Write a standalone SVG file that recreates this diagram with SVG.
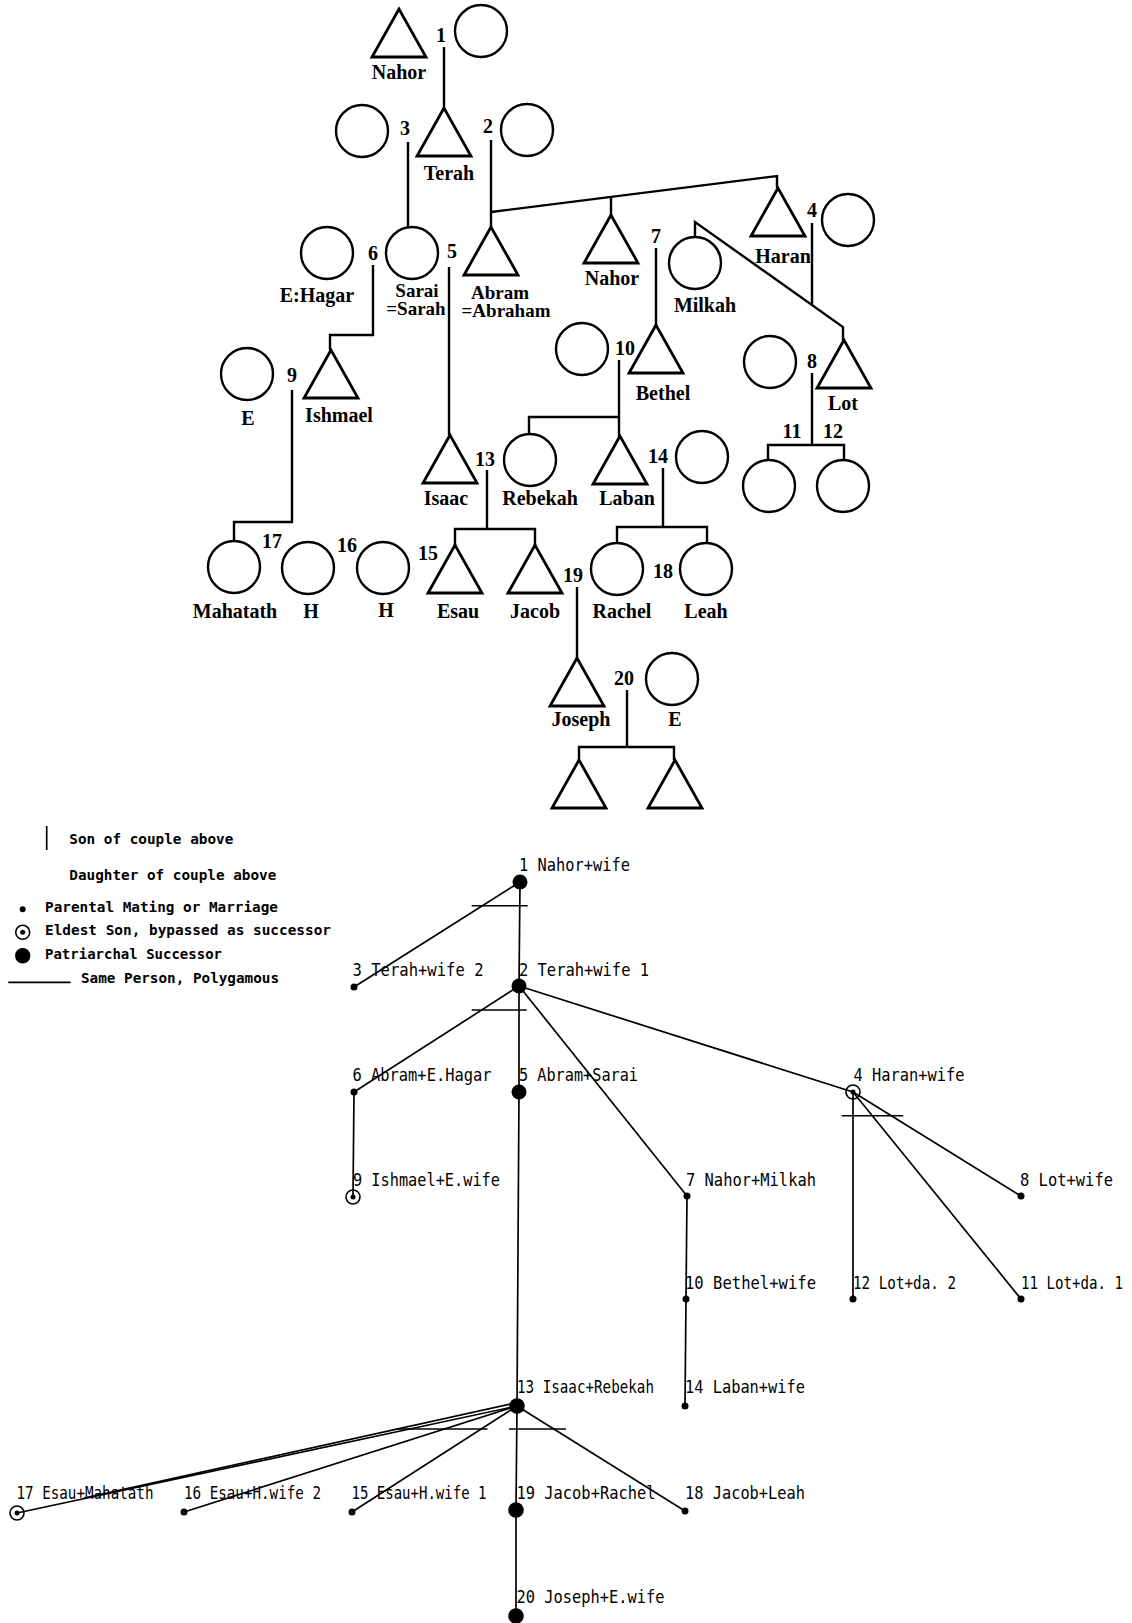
<svg xmlns="http://www.w3.org/2000/svg" width="1132" height="1623" viewBox="0 0 1132 1623">
<defs>
<style>
.tri{fill:none;stroke:#000;stroke-width:2.8;stroke-linejoin:miter}
.cir{fill:none;stroke:#000;stroke-width:2.4}
.ln{fill:none;stroke:#000;stroke-width:2.4}
.nm{font-family:"Liberation Serif","Times New Roman",serif;font-weight:bold;font-size:20px;text-anchor:middle;fill:#000}
.nm2{font-family:"Liberation Serif","Times New Roman",serif;font-weight:bold;font-size:19px;text-anchor:middle;fill:#000}
.ed{fill:none;stroke:#000;stroke-width:1.7}
.tk{fill:none;stroke:#000;stroke-width:1.5}
.dot{fill:#000}
.bo{fill:none;stroke:#000;stroke-width:1.6}
.cl{font-family:"DejaVu Sans Mono",monospace;font-size:17px;fill:#000}
.lg{font-family:"DejaVu Sans Mono",monospace;font-size:13.5px;font-weight:bold;fill:#000}
</style>
<path id="tri" class="tri" d="M0,0 L-27,48 L27,48 Z"/>
<circle id="cir" class="cir" r="26"/>
<g id="bull"><circle class="bo" r="7"/><circle class="dot" r="2.5"/></g>
</defs>
<rect width="1132" height="1623" fill="#fff"/>

<!-- ===== Upper kinship chart ===== -->
<g id="upper-connectors">
<path class="ln" d="M444,47 V108"/>
<path class="ln" d="M408,142 V227"/>
<path class="ln" d="M491,140 V227"/>
<path class="ln" d="M491,212 L777,176 V188"/>
<path class="ln" d="M611,197 V215"/>
<path class="ln" d="M812,223 V305"/>
<path class="ln" d="M695,237 V222 L843,327 V340"/>
<path class="ln" d="M656,248 V325"/>
<path class="ln" d="M373,265 V335 H330 V350"/>
<path class="ln" d="M449,267 V435"/>
<path class="ln" d="M292,390 V522 H234 V541"/>
<path class="ln" d="M619,360 V437 M619,417 H529 V434"/>
<path class="ln" d="M812,373 V445 M768,460 V445 H844 V460"/>
<path class="ln" d="M487,470 V529 M455,545 V529 H535 V545"/>
<path class="ln" d="M663,468 V527 M617,543 V527 H707 V543"/>
<path class="ln" d="M577,587 V658"/>
<path class="ln" d="M627,690 V747 M579,760 V747 H674 V760"/>
</g>

<g id="couple-numbers" class="nm">
<text x="441" y="42">1</text>
<text x="405" y="135">3</text>
<text x="488" y="133">2</text>
<text x="373" y="260">6</text>
<text x="452" y="258">5</text>
<text x="812" y="217">4</text>
<text x="656" y="243">7</text>
<text x="625" y="355">10</text>
<text x="812" y="368">8</text>
<text x="792" y="438">11</text>
<text x="833" y="438">12</text>
<text x="292" y="382">9</text>
<text x="485" y="466">13</text>
<text x="658" y="463">14</text>
<text x="272" y="548">17</text>
<text x="347" y="552">16</text>
<text x="428" y="560">15</text>
<text x="573" y="582">19</text>
<text x="663" y="578">18</text>
<text x="624" y="685">20</text>
</g>

<g id="p-nahor"><use href="#tri" x="399" y="9"/><text class="nm" x="399" y="79">Nahor</text></g>
<g id="p-nahor-wife"><use href="#cir" x="481" y="31"/></g>
<g id="p-terah"><use href="#tri" x="444" y="108"/><text class="nm" x="449" y="180">Terah</text></g>
<g id="p-terah-wife2"><use href="#cir" x="362" y="131"/></g>
<g id="p-terah-wife1"><use href="#cir" x="527" y="130"/></g>
<g id="p-hagar"><use href="#cir" x="327" y="253"/><text class="nm" x="317" y="302">E:Hagar</text></g>
<g id="p-sarai"><use href="#cir" x="412" y="253"/><text class="nm2" x="417" y="297">Sarai</text><text class="nm2" x="416" y="315">=Sarah</text></g>
<g id="p-abram"><use href="#tri" x="491" y="227"/><text class="nm2" x="500" y="299">Abram</text><text class="nm2" x="506" y="317">=Abraham</text></g>
<g id="p-nahor2"><use href="#tri" x="611" y="215"/><text class="nm" x="612" y="285">Nahor</text></g>
<g id="p-haran"><use href="#tri" x="778" y="188"/><text class="nm" x="783" y="263">Haran</text></g>
<g id="p-haran-wife"><use href="#cir" x="848" y="220"/></g>
<g id="p-milkah"><use href="#cir" x="695" y="263"/><text class="nm" x="705" y="312">Milkah</text></g>
<g id="p-bethel"><use href="#tri" x="656" y="325"/><text class="nm" x="663" y="400">Bethel</text></g>
<g id="p-bethel-wife"><use href="#cir" x="582" y="349"/></g>
<g id="p-lot"><use href="#tri" x="844" y="340"/><text class="nm" x="843" y="410">Lot</text></g>
<g id="p-lot-wife"><use href="#cir" x="770" y="362"/></g>
<g id="p-ishmael"><use href="#tri" x="331" y="350"/><text class="nm" x="339" y="422">Ishmael</text></g>
<g id="p-ishmael-wife"><use href="#cir" x="247" y="374"/><text class="nm" x="248" y="425">E</text></g>
<g id="p-isaac"><use href="#tri" x="450" y="435"/><text class="nm" x="446" y="505">Isaac</text></g>
<g id="p-rebekah"><use href="#cir" x="530" y="460"/><text class="nm" x="540" y="505">Rebekah</text></g>
<g id="p-laban"><use href="#tri" x="620" y="436"/><text class="nm" x="627" y="505">Laban</text></g>
<g id="p-laban-wife"><use href="#cir" x="702" y="457"/></g>
<g id="p-lot-da1"><use href="#cir" x="769" y="486"/></g>
<g id="p-lot-da2"><use href="#cir" x="843" y="486"/></g>
<g id="p-mahatath"><use href="#cir" x="234" y="567"/><text class="nm" x="235" y="618">Mahatath</text></g>
<g id="p-h1"><use href="#cir" x="308" y="568"/><text class="nm" x="311" y="618">H</text></g>
<g id="p-h2"><use href="#cir" x="383" y="568"/><text class="nm" x="386" y="617">H</text></g>
<g id="p-esau"><use href="#tri" x="455" y="545"/><text class="nm" x="458" y="618">Esau</text></g>
<g id="p-jacob"><use href="#tri" x="535" y="545"/><text class="nm" x="535" y="618">Jacob</text></g>
<g id="p-rachel"><use href="#cir" x="617" y="569"/><text class="nm" x="622" y="618">Rachel</text></g>
<g id="p-leah"><use href="#cir" x="706" y="569"/><text class="nm" x="706" y="618">Leah</text></g>
<g id="p-joseph"><use href="#tri" x="577" y="658"/><text class="nm" x="581" y="726">Joseph</text></g>
<g id="p-joseph-wife"><use href="#cir" x="672" y="679"/><text class="nm" x="675" y="726">E</text></g>
<g id="p-son1"><use href="#tri" x="579" y="760"/></g>
<g id="p-son2"><use href="#tri" x="675" y="760"/></g>

<!-- ===== Legend ===== -->
<g id="legend">
<path class="ed" d="M46.7,826 V850" stroke-width="2"/>
<text class="lg" x="69.3" y="844" textLength="164" lengthAdjust="spacingAndGlyphs">Son of couple above</text>
<text class="lg" x="69.3" y="880" textLength="207" lengthAdjust="spacingAndGlyphs">Daughter of couple above</text>
<circle class="dot" cx="22.7" cy="909.3" r="3"/>
<text class="lg" x="45" y="912.3" textLength="233" lengthAdjust="spacingAndGlyphs">Parental Mating or Marriage</text>
<use href="#bull" x="22.7" y="932.3"/>
<text class="lg" x="45" y="935" textLength="286" lengthAdjust="spacingAndGlyphs">Eldest Son, bypassed as successor</text>
<circle class="dot" cx="22.7" cy="955.7" r="7.7"/>
<text class="lg" x="45" y="959" textLength="177" lengthAdjust="spacingAndGlyphs">Patriarchal Successor</text>
<path class="ed" d="M8.3,982.3 H70.7"/>
<text class="lg" x="81" y="983.3" textLength="198" lengthAdjust="spacingAndGlyphs">Same Person, Polygamous</text>
</g>

<!-- ===== Lower succession graph ===== -->
<g id="connectors">
<path class="ed" d="M520,882 L519,986"/>
<path class="ed" d="M520,882 L354,987"/>
<path class="ed" d="M519,986 L354,1092"/>
<path class="ed" d="M519,986 L519,1092"/>
<path class="ed" d="M519,986 L687,1196"/>
<path class="ed" d="M519,986 L853,1092"/>
<path class="ed" d="M354,1092 L353,1197"/>
<path class="ed" d="M519,1092 L517,1406"/>
<path class="ed" d="M687,1196 L686,1299"/>
<path class="ed" d="M686,1299 L685,1406"/>
<path class="ed" d="M853,1092 L1021,1196"/>
<path class="ed" d="M853,1092 L1021,1299"/>
<path class="ed" d="M853,1092 L853,1299"/>
<path class="ed" d="M517,1406 L17,1513"/>
<path class="ed" d="M515,1403 L84,1498"/>
<path class="ed" d="M517,1406 L184,1512"/>
<path class="ed" d="M517,1406 L352,1512"/>
<path class="ed" d="M517,1406 L516,1510"/>
<path class="ed" d="M517,1406 L685,1511"/>
<path class="ed" d="M516,1510 L516,1616"/>
<path class="tk" d="M471.7,905.7 H527.7"/>
<path class="tk" d="M471.7,1010 H526.7"/>
<path class="tk" d="M841.7,1115.7 H903.3"/>
<path class="tk" d="M396.4,1429 H487.5"/>
<path class="tk" d="M509,1429 H566"/>
</g>

<g id="n1"><circle class="dot" cx="520" cy="882" r="7.5"/><text class="cl" x="519" y="870.5" textLength="111" lengthAdjust="spacingAndGlyphs">1 Nahor+wife</text></g>
<g id="n2"><circle class="dot" cx="519" cy="986" r="7.5"/><text class="cl" x="519" y="975.5" textLength="130" lengthAdjust="spacingAndGlyphs">2 Terah+wife 1</text></g>
<g id="n3"><circle class="dot" cx="354" cy="987" r="3.5"/><text class="cl" x="352.5" y="975.5" textLength="131" lengthAdjust="spacingAndGlyphs">3 Terah+wife 2</text></g>
<g id="n4"><use href="#bull" x="853" y="1092"/><text class="cl" x="853.5" y="1080.5" textLength="111" lengthAdjust="spacingAndGlyphs">4 Haran+wife</text></g>
<g id="n5"><circle class="dot" cx="519" cy="1092" r="7.5"/><text class="cl" x="519" y="1080.5" textLength="119" lengthAdjust="spacingAndGlyphs">5 Abram+Sarai</text></g>
<g id="n6"><circle class="dot" cx="354" cy="1092" r="3.5"/><text class="cl" x="352.5" y="1080.5" textLength="139" lengthAdjust="spacingAndGlyphs">6 Abram+E.Hagar</text></g>
<g id="n7"><circle class="dot" cx="687" cy="1196" r="3.5"/><text class="cl" x="686" y="1185.5" textLength="130" lengthAdjust="spacingAndGlyphs">7 Nahor+Milkah</text></g>
<g id="n8"><circle class="dot" cx="1021" cy="1196" r="3.5"/><text class="cl" x="1020" y="1185.5" textLength="93" lengthAdjust="spacingAndGlyphs">8 Lot+wife</text></g>
<g id="n9"><use href="#bull" x="353" y="1197"/><text class="cl" x="353" y="1185.5" textLength="147" lengthAdjust="spacingAndGlyphs">9 Ishmael+E.wife</text></g>
<g id="n10"><circle class="dot" cx="686" cy="1299" r="3.5"/><text class="cl" x="685" y="1289" textLength="131" lengthAdjust="spacingAndGlyphs">10 Bethel+wife</text></g>
<g id="n11"><circle class="dot" cx="1021" cy="1299" r="3.5"/><text class="cl" x="1021" y="1289" style="font-size:14.5px" transform="translate(1021,1289) scale(1,1.17) translate(-1021,-1289)" textLength="102" lengthAdjust="spacingAndGlyphs">11 Lot+da. 1</text></g>
<g id="n12"><circle class="dot" cx="853" cy="1299" r="3.5"/><text class="cl" x="853" y="1289" textLength="103" lengthAdjust="spacingAndGlyphs">12 Lot+da. 2</text></g>
<g id="n13"><circle class="dot" cx="517" cy="1406" r="7.8"/><text class="cl" x="517" y="1393" textLength="137" lengthAdjust="spacingAndGlyphs">13 Isaac+Rebekah</text></g>
<g id="n14"><circle class="dot" cx="685" cy="1406" r="3.5"/><text class="cl" x="685" y="1393" textLength="120" lengthAdjust="spacingAndGlyphs">14 Laban+wife</text></g>
<g id="n15"><circle class="dot" cx="352" cy="1512" r="3.5"/><text class="cl" x="351.5" y="1499" textLength="135" lengthAdjust="spacingAndGlyphs">15 Esau+H.wife 1</text></g>
<g id="n16"><circle class="dot" cx="184" cy="1512" r="3.5"/><text class="cl" x="184" y="1499" textLength="137" lengthAdjust="spacingAndGlyphs">16 Esau+H.wife 2</text></g>
<g id="n17"><use href="#bull" x="17" y="1513"/><text class="cl" x="16.5" y="1499" textLength="137" lengthAdjust="spacingAndGlyphs">17 Esau+Mahatath</text></g>
<g id="n18"><circle class="dot" cx="685" cy="1511" r="3.5"/><text class="cl" x="685" y="1498.5" textLength="120" lengthAdjust="spacingAndGlyphs">18 Jacob+Leah</text></g>
<g id="n19"><circle class="dot" cx="516" cy="1510" r="7.8"/><text class="cl" x="516.5" y="1498.5" textLength="139" lengthAdjust="spacingAndGlyphs">19 Jacob+Rachel</text></g>
<g id="n20"><circle class="dot" cx="516" cy="1616" r="7.8"/><text class="cl" x="516.5" y="1603" textLength="148" lengthAdjust="spacingAndGlyphs">20 Joseph+E.wife</text></g>
</svg>
